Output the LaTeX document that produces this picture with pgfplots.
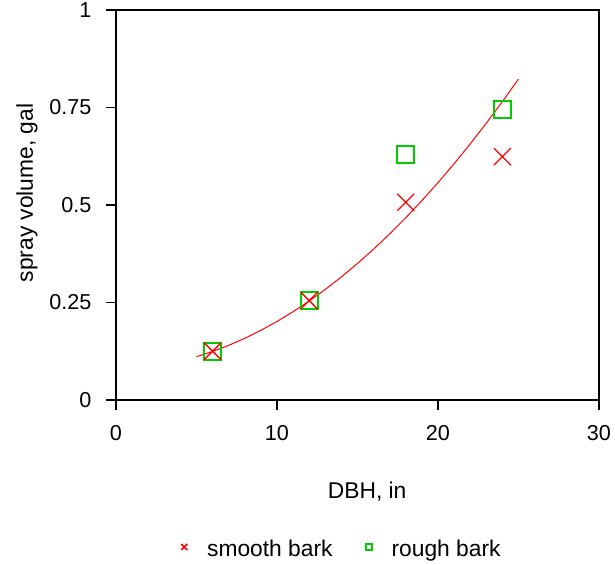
\documentclass[border=0pt]{standalone}
\usepackage{fontspec}
\setmainfont{Liberation Sans}
\usepackage{pgfplots}
\pgfplotsset{compat=1.18}
\definecolor{barkred}{RGB}{255,0,0}
\definecolor{barkgreen}{RGB}{0,204,0}

\begin{document}
\fontsize{10.8}{13}\selectfont
\begin{tikzpicture}
% frame of the whole picture, in the reference's proportions (1px = 0.5pt)
\path[use as bounding box] (-58pt,-82.5pt) rectangle (249.5pt,200pt);
\begin{axis}[
  at={(0,0)}, anchor=south west,
  scale only axis,
  width=241.5pt, height=195pt,
  xmin=0, xmax=30, ymin=0, ymax=1,
  xtick={0,10,20,30},
  ytick={0,0.25,0.5,0.75,1},
  tick pos=left,
  tick align=outside,
  major tick length=5pt,
  every tick/.style={black, line width=0.8pt},
  axis line style={line width=1pt},
  /pgf/number format/assume math mode=true,
  xticklabel style={yshift=-4pt},
  yticklabel style={xshift=-3.5pt},
  label style={font=\fontsize{11.4}{13.7}\selectfont},
  xlabel={DBH, in},
  ylabel={spray volume, gal},
  xlabel style={at={(rel axis cs:0.52,0)}, anchor=center, yshift=-46pt},
  ylabel style={at={(rel axis cs:0,0.531)}, anchor=center, yshift=44.5pt},
  legend columns=2,
  legend style={at={(rel axis cs:0.468,0)}, anchor=center, yshift=-75pt,
    draw=none, fill=none, font=\fontsize{11.4}{13.7}\selectfont},
  legend image code/.code={\path (-2pt,0pt) (9pt,0pt);
    \draw[#1] plot coordinates {(0pt,1.5pt)};},
  /tikz/every even column/.append style={column sep=13.5pt},
]
\addlegendimage{only marks, mark=x, mark size=2.1pt, draw=barkred, line width=0.8pt}
\addlegendentry{smooth bark}
\addlegendimage{only marks, mark=square, mark size=1.5pt, draw=barkgreen, line width=1pt}
\addlegendentry{rough bark}

% fitted curve
\addplot[forget plot, barkred, line width=0.5pt, no marks] coordinates {
  (5,0.1110) (6,0.1244) (7,0.1401) (8,0.1582) (9,0.1786) (10,0.2013)
  (11,0.2264) (12,0.2538) (13,0.2836) (14,0.3156) (15,0.3501) (16,0.3868)
  (17,0.4260) (18,0.4674) (19,0.5112) (20,0.5573) (21,0.6058) (22,0.6566)
  (23,0.7097) (24,0.7652) (25,0.8230)
};

% rough bark
\addplot[forget plot, only marks, mark=square, mark size=4.25pt,
  mark options={draw=barkgreen, line width=1pt}] coordinates {
  (6,0.125) (12,0.255) (18,0.630) (24,0.744)
};

% smooth bark
\addplot[forget plot, only marks, mark=x, mark size=6pt,
  mark options={draw=barkred, line width=0.65pt}] coordinates {
  (6,0.125) (12,0.255) (18,0.507) (24,0.624)
};
\end{axis}
\end{tikzpicture}
\end{document}
